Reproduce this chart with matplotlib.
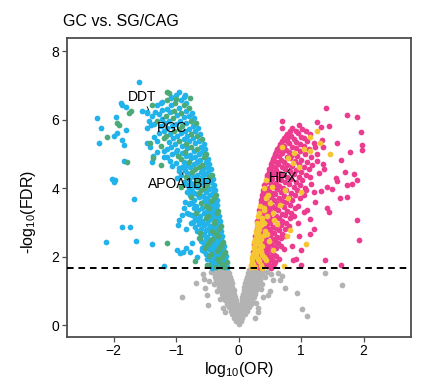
import numpy as np
import matplotlib
matplotlib.use("Agg")
import matplotlib.pyplot as plt

plt.rcParams['font.family'] = ['Liberation Sans', 'DejaVu Sans']
plt.rcParams['mathtext.fontset'] = 'custom'
plt.rcParams['mathtext.rm'] = 'Liberation Sans'
plt.rcParams['mathtext.default'] = 'regular'

title = "GC vs. SG/CAG"
fdr_cut = 1.66
x_ticks = [-2, -1, 0, 1, 2]
y_ticks = [0, 2, 4, 6, 8]

# down-regulated, group 1 (blue)
blue_pts = [
    (-0.18, 1.70), (-0.30, 1.72), (-0.42, 1.68),
    (-0.25, 1.86), (-0.38, 1.83), (-0.45, 1.88),
    (-0.21, 2.01), (-0.33, 1.98), (-0.40, 2.03),
    (-0.28, 2.16), (-0.42, 2.13), (-0.55, 2.18),
    (-0.24, 2.30), (-0.37, 2.32), (-0.45, 2.28), (-0.52, 2.33),
    (-0.31, 2.46), (-0.38, 2.44), (-0.60, 2.47),
    (-0.27, 2.60), (-0.40, 2.62), (-0.50, 2.58), (-0.58, 2.63),
    (-0.28, 2.76), (-0.35, 2.73), (-0.53, 2.77), (-0.66, 2.74),
    (-0.36, 2.91), (-0.44, 2.89), (-0.55, 2.92), (-0.70, 2.88),
    (-0.30, 3.05), (-0.47, 3.07), (-0.58, 3.03),
    (-0.32, 3.20), (-0.40, 3.22), (-0.62, 3.18), (-0.75, 3.23),
    (-0.41, 3.36), (-0.50, 3.33), (-0.65, 3.37),
    (-0.34, 3.50), (-0.43, 3.52), (-0.68, 3.48), (-0.80, 3.53),
    (-0.35, 3.66), (-0.55, 3.63), (-0.72, 3.67),
    (-0.46, 3.81), (-0.57, 3.78), (-0.66, 3.83), (-0.78, 3.79),
    (-0.38, 3.95), (-0.48, 3.97), (-0.75, 3.93),
    (-0.40, 4.10), (-0.62, 4.12), (-0.72, 4.08), (-0.85, 4.13),
    (-0.41, 4.26), (-0.52, 4.23), (-0.80, 4.27),
    (-0.54, 4.41), (-0.66, 4.38), (-0.78, 4.43), (-0.92, 4.39),
    (-0.45, 4.55), (-0.57, 4.57), (-0.86, 4.53),
    (-0.47, 4.70), (-0.72, 4.72), (-0.84, 4.68), (-1.00, 4.73),
    (-0.49, 4.86), (-0.62, 4.83), (-0.76, 4.87),
    (-0.64, 5.01), (-0.78, 4.98), (-0.90, 5.03), (-1.06, 4.99),
    (-0.54, 5.15), (-0.82, 5.17), (-0.98, 5.13), (-1.15, 5.16),
    (-0.56, 5.30), (-0.70, 5.32), (-1.02, 5.28),
    (-0.73, 5.46), (-0.88, 5.43), (-1.05, 5.47),
    (-0.62, 5.60), (-0.92, 5.62), (-1.10, 5.58), (-1.28, 5.61),
    (-0.65, 5.76), (-0.80, 5.73), (-1.14, 5.77),
    (-0.84, 5.91), (-1.00, 5.88), (-1.18, 5.92), (-1.35, 5.89),
    (-0.72, 6.05), (-0.88, 6.07), (-1.22, 6.03),
    (-0.75, 6.20), (-1.10, 6.22), (-1.28, 6.18), (-1.46, 6.21),
    (-0.96, 6.36), (-1.15, 6.33),
    (-0.84, 6.50), (-1.22, 6.52),
    (-0.88, 6.66), (-1.08, 6.63),
    (-0.95, 6.80),
    (-0.21, 1.77), (-0.33, 1.78), (-0.40, 1.76),
    (-0.22, 1.92), (-0.29, 1.93), (-0.42, 1.91), (-0.50, 1.94),
    (-0.30, 2.08), (-0.37, 2.06), (-0.52, 2.08),
    (-0.25, 2.22), (-0.39, 2.23), (-0.48, 2.21), (-0.58, 2.24),
    (-0.34, 2.37), (-0.41, 2.38), (-0.56, 2.36),
    (-0.28, 2.52), (-0.35, 2.53), (-0.53, 2.51), (-0.64, 2.54),
    (-0.30, 2.67), (-0.46, 2.68), (-0.55, 2.66),
    (-0.39, 2.82), (-0.48, 2.83), (-0.60, 2.81),
    (-0.32, 2.97), (-0.50, 2.98), (-0.63, 2.96), (-0.76, 2.99),
    (-0.34, 3.12), (-0.43, 3.13), (-0.65, 3.11), (-0.70, 3.14),
    (-0.45, 3.27), (-0.56, 3.28), (-0.80, 3.26),
    (-0.37, 3.42), (-0.58, 3.43), (-0.72, 3.41),
    (-0.38, 3.57), (-0.49, 3.58), (-0.74, 3.56), (-0.86, 3.59),
    (-0.51, 3.72), (-0.63, 3.73),
    (-0.41, 3.87), (-0.53, 3.88), (-0.71, 3.86), (-0.82, 3.89),
    (-0.43, 4.02), (-0.67, 4.03), (-0.80, 4.01),
    (-0.45, 4.17), (-0.57, 4.18), (-0.77, 4.16), (-0.88, 4.19),
    (-0.59, 4.32), (-0.72, 4.33), (-0.98, 4.31),
    (-0.49, 4.47), (-0.61, 4.48), (-0.82, 4.46), (-0.96, 4.49),
    (-0.51, 4.62), (-0.78, 4.63), (-0.91, 4.61), (-1.06, 4.64),
    (-0.53, 4.77), (-0.66, 4.78), (-0.88, 4.76), (-1.10, 4.79),
    (-0.70, 4.92), (-0.84, 4.93), (-1.14, 4.91),
    (-0.58, 5.07), (-0.72, 5.08), (-1.00, 5.06), (-1.20, 5.09),
    (-0.61, 5.22), (-0.90, 5.23), (-1.08, 5.21),
    (-0.63, 5.37), (-0.79, 5.38), (-1.12, 5.36), (-1.30, 5.39),
    (-0.82, 5.52), (-0.98, 5.53), (-1.36, 5.51),
    (-0.70, 5.67), (-0.86, 5.68), (-1.20, 5.66),
    (-0.73, 5.82), (-1.07, 5.83), (-1.25, 5.81), (-1.40, 5.84),
    (-0.94, 5.97), (-1.12, 5.98),
    (-0.80, 6.12), (-0.98, 6.13), (-1.38, 6.11),
    (-0.84, 6.27), (-1.22, 6.28), (-1.55, 6.26),
    (-1.08, 6.42), (-1.30, 6.43),
    (-0.93, 6.57), (-1.00, 6.72),
    (-1.60, 7.12), (-2.27, 6.06), (-2.20, 5.76), (-2.24, 5.32), (-1.97, 6.09),
    (-1.81, 5.70), (-1.89, 6.50), (-1.81, 6.38), (-1.86, 5.41), (-1.84, 5.26),
    (-2.00, 5.53), (-1.46, 5.76), (-1.44, 5.97), (-1.47, 6.24), (-1.34, 6.24),
    (-1.25, 6.50), (-1.09, 6.68), (-0.86, 6.72), (-1.84, 4.79), (-2.03, 4.26),
    (-2.00, 4.18), (-1.68, 3.68), (-1.87, 2.88), (-1.74, 2.88), (-2.13, 2.44),
    (-1.65, 2.47), (-1.38, 2.38), (-1.20, 1.74), (-0.96, 3.06), (-0.85, 2.82),
    (-0.74, 2.41), (-0.94, 2.12), (-0.85, 2.24), (-1.39, 4.77), (-1.37, 4.95),
    (-1.47, 5.32), (-1.42, 5.20), (-1.98, 4.24), (-1.94, 5.61), (-1.87, 6.43),
    (-0.88, 3.42), (-0.83, 3.27), (-0.91, 3.21), (-0.73, 3.01), (-0.67, 3.06),
    (-0.97, 2.92), (-0.99, 2.19), (-0.89, 2.13), (-0.78, 2.13), (-0.67, 1.99),
    (-0.59, 2.19), (-0.78, 3.57), (-1.30, 5.05), (-1.20, 4.90), (-0.95, 4.60),
]

# down-regulated, group 2 (green)
green_pts = [
    (-0.24, 1.69), (-0.36, 1.71), (-0.19, 1.84), (-0.31, 1.87), (-0.27, 1.99),
    (-0.48, 2.02), (-0.22, 2.14), (-0.35, 2.17), (-0.30, 2.29), (-0.25, 2.44),
    (-0.46, 2.47), (-0.33, 2.59), (-0.42, 2.74), (-0.29, 2.90), (-0.38, 3.04),
    (-0.49, 3.19), (-0.33, 3.34), (-0.53, 3.49), (-0.44, 3.64), (-0.37, 3.80),
    (-0.60, 3.96), (-0.50, 4.09), (-0.65, 4.24), (-0.43, 4.40), (-0.70, 4.56),
    (-0.59, 4.69), (-0.92, 4.85), (-0.52, 4.99), (-0.67, 5.14), (-0.85, 5.29),
    (-0.59, 5.44), (-1.20, 5.46), (-0.76, 5.59), (-0.96, 5.74), (-0.68, 5.90),
    (-1.05, 6.06), (-0.92, 6.19), (-0.80, 6.34), (-1.02, 6.49), (-1.12, 6.79),
    (-0.27, 1.78), (-0.48, 1.77), (-0.35, 1.92), (-0.24, 2.07), (-0.45, 2.08),
    (-0.32, 2.22), (-0.27, 2.37), (-0.49, 2.38), (-0.43, 2.52), (-0.37, 2.67),
    (-0.62, 2.68), (-0.31, 2.82), (-0.40, 2.97), (-0.53, 3.12), (-0.35, 3.27),
    (-0.68, 3.28), (-0.47, 3.42), (-0.60, 3.57), (-0.40, 3.72), (-0.76, 3.73),
    (-0.64, 3.87), (-0.55, 4.02), (-0.92, 4.03), (-0.68, 4.17), (-0.47, 4.32),
    (-0.85, 4.33), (-0.74, 4.47), (-0.64, 4.62), (-0.80, 4.77), (-0.56, 4.92),
    (-0.97, 4.93), (-0.86, 5.07), (-0.76, 5.22), (-1.24, 5.23), (-0.95, 5.37),
    (-0.67, 5.52), (-1.16, 5.53), (-1.03, 5.67), (-0.90, 5.82), (-0.76, 5.97),
    (-1.30, 5.98), (-1.16, 6.12), (-1.03, 6.27), (-0.88, 6.42), (-1.15, 6.57),
    (-2.11, 5.50), (-1.92, 5.85), (-1.76, 6.20), (-1.72, 6.26), (-1.42, 5.32),
    (-1.38, 6.44), (-1.14, 6.82), (-1.00, 6.62), (-0.78, 6.65), (-1.78, 4.78),
    (-1.25, 4.68), (-1.37, 4.88), (-1.14, 2.41), (-0.70, 1.88), (-0.54, 2.26),
    (-1.95, 5.90), (-0.62, 2.55), (-0.50, 1.75),
]

# up-regulated, group 1 (pink)
pink_pts = [
    (0.32, 1.70), (0.45, 1.72), (0.52, 1.68),
    (0.27, 1.86), (0.40, 1.83), (0.48, 1.87), (0.58, 1.84),
    (0.34, 2.01), (0.50, 1.98), (0.60, 2.03),
    (0.23, 2.15), (0.44, 2.17), (0.54, 2.13),
    (0.30, 2.30), (0.46, 2.32), (0.56, 2.28), (0.68, 2.31),
    (0.39, 2.46), (0.60, 2.44),
    (0.26, 2.60), (0.50, 2.62), (0.62, 2.58), (0.74, 2.61),
    (0.34, 2.76), (0.52, 2.73), (0.65, 2.77),
    (0.44, 2.91), (0.55, 2.88), (0.68, 2.92), (0.80, 2.89),
    (0.30, 3.05), (0.46, 3.07), (0.70, 3.03),
    (0.39, 3.20), (0.48, 3.22), (0.60, 3.18), (0.74, 3.21), (0.88, 3.19),
    (0.33, 3.36), (0.50, 3.33), (0.63, 3.37), (0.78, 3.34),
    (0.43, 3.51), (0.53, 3.48), (0.82, 3.52), (0.95, 3.49),
    (0.36, 3.66), (0.45, 3.63), (0.56, 3.67), (0.70, 3.64), (0.86, 3.66),
    (0.37, 3.80), (0.58, 3.82), (0.72, 3.78), (0.90, 3.81), (1.05, 3.79),
    (0.39, 3.96), (0.49, 3.93), (0.61, 3.97), (0.76, 3.94), (0.94, 3.96),
    (0.41, 4.10), (0.51, 4.12), (0.64, 4.08), (0.80, 4.11), (0.98, 4.09), (1.15, 4.12),
    (0.54, 4.26), (0.67, 4.23), (0.84, 4.27), (1.02, 4.24),
    (0.46, 4.40), (0.57, 4.42), (0.70, 4.38), (0.88, 4.41), (1.08, 4.39),
    (0.49, 4.56), (0.60, 4.53), (0.74, 4.57), (0.92, 4.54), (1.12, 4.56),
    (0.52, 4.70), (0.63, 4.72), (0.78, 4.68), (0.96, 4.71), (1.18, 4.69),
    (0.55, 4.86), (0.67, 4.83), (0.82, 4.87), (1.00, 4.84),
    (0.58, 5.00), (0.70, 5.02), (0.86, 4.98), (1.06, 5.01), (1.25, 4.99),
    (0.62, 5.15), (0.75, 5.13), (0.92, 5.17), (1.12, 5.14),
    (0.66, 5.30), (0.80, 5.32), (0.98, 5.28), (1.20, 5.31),
    (0.72, 5.46), (0.88, 5.43), (1.05, 5.47),
    (0.78, 5.60), (0.95, 5.62), (1.14, 5.58),
    (0.85, 5.76), (1.02, 5.73),
    (0.29, 1.77), (0.42, 1.78), (0.49, 1.76), (0.56, 1.78),
    (0.25, 1.92), (0.37, 1.93), (0.53, 1.91), (0.64, 1.94),
    (0.32, 2.07), (0.46, 2.08), (0.56, 2.06),
    (0.27, 2.22), (0.40, 2.23), (0.49, 2.21), (0.60, 2.24), (0.72, 2.22),
    (0.25, 2.37), (0.42, 2.38), (0.51, 2.36), (0.63, 2.39),
    (0.30, 2.52), (0.44, 2.53), (0.55, 2.51), (0.68, 2.54),
    (0.38, 2.67), (0.57, 2.68), (0.70, 2.66),
    (0.29, 2.82), (0.40, 2.83), (0.48, 2.81), (0.60, 2.84), (0.74, 2.82),
    (0.35, 2.97), (0.50, 2.98), (0.62, 2.96), (0.76, 2.99),
    (0.32, 3.12), (0.43, 3.13), (0.53, 3.11), (0.65, 3.14), (0.82, 3.12),
    (0.38, 3.27), (0.45, 3.28), (0.69, 3.26), (0.84, 3.29),
    (0.35, 3.42), (0.48, 3.43), (0.58, 3.41), (0.72, 3.44), (0.90, 3.42),
    (0.36, 3.57), (0.42, 3.58), (0.62, 3.56), (0.76, 3.59),
    (0.38, 3.72), (0.52, 3.73), (0.64, 3.71), (0.80, 3.74), (0.98, 3.72),
    (0.39, 3.87), (0.46, 3.88), (0.55, 3.86), (0.68, 3.89), (0.84, 3.87),
    (0.48, 4.02), (0.58, 4.03), (0.71, 4.01), (0.88, 4.04), (1.06, 4.02),
    (0.43, 4.17), (0.50, 4.18), (0.60, 4.16), (0.74, 4.19), (0.92, 4.17),
    (0.45, 4.32), (0.52, 4.33), (0.63, 4.31), (0.78, 4.34), (0.96, 4.32), (1.14, 4.33),
    (0.48, 4.47), (0.55, 4.48), (0.66, 4.46), (0.82, 4.49), (1.00, 4.47),
    (0.51, 4.62), (0.58, 4.63), (0.69, 4.61), (0.85, 4.64), (1.05, 4.62),
    (0.54, 4.77), (0.62, 4.78), (0.73, 4.76), (0.90, 4.79), (1.10, 4.77),
    (0.57, 4.92), (0.65, 4.93), (0.77, 4.91), (0.94, 4.94), (1.15, 4.92),
    (0.60, 5.07), (0.68, 5.08), (0.81, 5.06), (0.98, 5.09),
    (0.64, 5.22), (0.72, 5.23), (0.85, 5.21), (1.04, 5.24), (1.22, 5.22),
    (0.70, 5.37), (0.77, 5.38), (0.92, 5.36), (1.10, 5.39),
    (0.75, 5.52), (0.84, 5.53), (1.00, 5.51),
    (0.82, 5.67), (0.92, 5.68), (1.08, 5.66),
    (1.39, 6.35), (1.74, 6.15), (1.90, 6.09), (1.95, 5.65), (1.98, 5.26),
    (1.98, 5.12), (1.78, 5.06), (0.69, 5.97), (0.69, 5.76), (0.96, 5.85),
    (1.26, 5.94), (1.31, 5.79), (1.44, 5.82), (1.58, 5.32), (1.63, 4.82),
    (1.70, 4.47), (1.84, 4.41), (1.90, 4.24), (1.74, 4.09), (1.81, 4.12),
    (1.62, 3.71), (1.74, 3.74), (1.42, 4.03), (1.50, 3.97), (1.31, 3.91),
    (1.42, 3.41), (1.44, 3.32), (1.89, 3.06), (1.92, 2.50), (1.38, 1.91),
    (1.63, 1.76), (1.14, 2.65), (1.14, 3.09), (0.99, 1.76), (0.87, 1.90),
    (0.92, 1.94), (1.20, 2.80), (1.05, 3.30), (1.00, 2.20), (0.85, 2.30),
    (1.28, 4.45), (1.35, 4.70), (1.22, 3.60), (0.96, 2.60), (1.08, 3.95),
    (1.33, 5.41), (1.35, 5.20), (1.25, 4.80), (1.55, 4.30), (1.58, 4.20),
    (1.37, 4.56), (0.79, 5.50), (1.20, 3.89), (1.09, 3.35), (0.95, 2.98),
]

# up-regulated, group 2 (yellow)
yellow_pts = [
    (0.20, 1.69), (0.26, 1.71), (0.38, 1.68), (0.21, 1.84), (0.33, 1.86),
    (0.22, 1.99), (0.28, 2.02), (0.41, 1.99), (0.29, 2.14), (0.36, 2.16),
    (0.24, 2.29), (0.37, 2.31), (0.25, 2.44), (0.31, 2.47), (0.48, 2.45),
    (0.33, 2.59), (0.41, 2.62), (0.27, 2.74), (0.42, 2.76), (0.29, 2.89),
    (0.36, 2.92), (0.38, 3.04), (0.57, 3.06), (0.31, 3.19), (0.41, 3.35),
    (0.34, 3.49), (0.66, 3.51), (0.47, 3.79), (0.43, 4.24),
    (0.20, 1.77), (0.23, 1.78), (0.35, 1.76), (0.22, 1.92), (0.31, 1.93),
    (0.44, 1.91), (0.23, 2.07), (0.26, 2.08), (0.38, 2.06), (0.24, 2.22),
    (0.33, 2.23), (0.28, 2.37), (0.34, 2.38), (0.26, 2.52), (0.36, 2.53),
    (0.28, 2.67), (0.31, 2.68), (0.46, 2.66), (0.33, 2.82), (0.30, 2.97),
    (0.41, 2.98), (0.37, 3.12), (0.33, 3.27), (0.55, 3.28), (0.40, 3.42),
    (0.50, 3.57), (0.44, 3.72), (0.41, 4.02),
    (0.70, 5.20), (0.88, 5.03), (1.04, 5.15), (1.14, 5.09), (1.14, 5.50),
    (1.25, 5.68), (1.30, 5.32), (1.46, 5.00), (0.79, 4.88), (0.87, 4.74),
    (0.97, 4.62), (0.74, 3.95), (0.79, 3.71), (1.00, 3.89), (0.53, 4.04),
    (0.82, 2.78), (0.77, 2.60), (1.07, 2.37), (0.72, 1.74), (0.55, 2.20),
    (0.62, 2.95), (0.45, 3.20),
]

# not significant (grey)
grey_pts = [
    (-0.41, 1.62), (-0.35, 1.61), (-0.29, 1.63), (-0.23, 1.61), (-0.18, 1.62),
    (0.17, 1.62), (0.22, 1.61), (0.27, 1.63), (0.32, 1.61), (0.38, 1.62),
    (-0.40, 1.52), (-0.34, 1.53), (-0.28, 1.51), (-0.22, 1.53), (-0.16, 1.52),
    (0.15, 1.52), (0.20, 1.53), (0.26, 1.51), (0.31, 1.53), (0.37, 1.52),
    (-0.38, 1.42), (-0.32, 1.41), (-0.26, 1.43), (-0.20, 1.41), (-0.14, 1.42),
    (0.13, 1.42), (0.18, 1.41), (0.24, 1.43), (0.30, 1.41), (0.36, 1.42),
    (-0.36, 1.32), (-0.30, 1.33), (-0.24, 1.31), (-0.18, 1.33), (-0.12, 1.32),
    (0.11, 1.32), (0.16, 1.33), (0.22, 1.31), (0.28, 1.33), (0.34, 1.32),
    (-0.34, 1.22), (-0.28, 1.21), (-0.22, 1.23), (-0.16, 1.21), (-0.11, 1.22),
    (0.10, 1.22), (0.15, 1.21), (0.21, 1.23), (0.26, 1.21), (0.32, 1.22),
    (-0.32, 1.12), (-0.26, 1.13), (-0.20, 1.11), (-0.14, 1.13), (-0.10, 1.12),
    (0.09, 1.12), (0.14, 1.13), (0.19, 1.11), (0.24, 1.13), (0.30, 1.12),
    (-0.30, 1.02), (-0.24, 1.01), (-0.18, 1.03), (-0.13, 1.01), (-0.08, 1.02),
    (0.08, 1.02), (0.13, 1.01), (0.18, 1.03), (0.23, 1.01), (0.28, 1.02),
    (-0.27, 0.92), (-0.22, 0.93), (-0.16, 0.91), (-0.11, 0.93), (-0.07, 0.92),
    (0.07, 0.92), (0.12, 0.93), (0.16, 0.91), (0.21, 0.93), (0.26, 0.92),
    (-0.25, 0.82), (-0.20, 0.81), (-0.14, 0.83), (-0.10, 0.81), (-0.06, 0.82),
    (0.06, 0.82), (0.10, 0.81), (0.15, 0.83), (0.19, 0.81), (0.24, 0.82),
    (-0.22, 0.72), (-0.17, 0.73), (-0.12, 0.71), (-0.08, 0.73), (-0.05, 0.72),
    (0.05, 0.72), (0.09, 0.73), (0.13, 0.71), (0.17, 0.73), (0.21, 0.72),
    (-0.19, 0.62), (-0.15, 0.61), (-0.10, 0.63), (-0.06, 0.61), (-0.03, 0.62),
    (0.04, 0.62), (0.08, 0.61), (0.11, 0.63), (0.15, 0.61), (0.19, 0.62),
    (-0.16, 0.52), (-0.12, 0.53), (-0.08, 0.51), (-0.04, 0.53),
    (0.00, 0.52), (0.04, 0.51), (0.08, 0.53), (0.12, 0.51), (0.16, 0.52),
    (-0.13, 0.42), (-0.09, 0.41), (-0.05, 0.43), (-0.02, 0.41),
    (0.02, 0.42), (0.06, 0.43), (0.10, 0.41), (0.13, 0.42),
    (-0.10, 0.32), (-0.06, 0.33), (-0.03, 0.31),
    (0.00, 0.32), (0.03, 0.31), (0.07, 0.33), (0.10, 0.32),
    (-0.07, 0.22), (-0.04, 0.21), (-0.01, 0.23), (0.02, 0.22), (0.05, 0.21),
    (-0.04, 0.12), (-0.01, 0.11), (0.01, 0.13), (0.03, 0.12),
    (0.00, 0.04),
    (1.38, 1.52), (1.65, 1.17), (0.93, 0.94), (1.02, 0.47), (1.10, 0.26),
    (-0.91, 0.82), (-0.57, 1.49), (-0.55, 1.35), (-0.68, 1.23), (-0.54, 1.08),
    (-0.51, 0.88), (-0.49, 0.58), (-0.25, 0.50), (-0.22, 0.38), (0.66, 1.32),
    (0.63, 1.52), (0.55, 1.32), (0.74, 1.08), (0.50, 1.00), (0.47, 0.88),
    (0.39, 0.82), (0.31, 0.50), (0.31, 0.38), (0.26, 0.20), (0.51, 1.50),
    (0.70, 1.44), (0.45, 1.55), (0.42, 1.40), (-0.45, 1.55), (-0.47, 1.30),
    (0.38, 1.20), (0.35, 1.05), (-0.40, 1.20), (-0.35, 1.00), (0.28, 0.65),
    (-0.30, 0.75),
]

# labelled proteins: name, point, label position
label_names = ["DDT", "PGC", "APOA1BP", "HPX"]
label_points = [(-1.44, 6.29), (-1.21, 6.05), (-0.89, 4.47), (0.82, 4.58)]
label_text_pos = [(-1.54, 6.67), (-1.07, 5.76), (-0.94, 4.12), (0.71, 4.30)]

colors = {
    "grey": "#B3B3B3",
    "blue": "#22B3EA",
    "green": "#4CAA78",
    "pink": "#EC3C8F",
    "yellow": "#F6C533",
}

fig = plt.figure(figsize=(4.28, 3.79), dpi=100)
ax = fig.add_axes([0.156, 0.1116, 0.804, 0.787])

for pts, key in [(grey_pts, "grey"), (blue_pts, "blue"), (green_pts, "green"),
                 (pink_pts, "pink"), (yellow_pts, "yellow")]:
    arr = np.array(pts)
    ax.scatter(arr[:, 0], arr[:, 1], s=17, c=colors[key], linewidths=0, zorder=2)

ax.axhline(fdr_cut, color="black", lw=1.4, dashes=(3.4, 2.5), zorder=3)

for name, pt, tp in zip(label_names, label_points, label_text_pos):
    ax.annotate(name, xy=pt, xytext=tp, ha="center", va="center", fontsize=10,
                color="black", zorder=4,
                arrowprops=dict(arrowstyle="-", lw=0.6, color="black",
                                shrinkA=0, shrinkB=0))

ax.set_xlim(-2.75, 2.755)
ax.set_ylim(-0.34, 8.38)
ax.set_xticks(x_ticks)
ax.set_yticks(y_ticks)
ax.set_xticklabels(["\u2212" + str(abs(t)) if t < 0 else str(t) for t in x_ticks])
for sp in ax.spines.values():
    sp.set_color("#4D4D4D")
    sp.set_linewidth(1.3)
ax.tick_params(direction="out", length=3.5, width=0.9, color="#4D4D4D",
               labelsize=10, labelcolor="black", pad=2)

ax.set_xlabel("log$_{10}$(OR)", fontsize=11.5, labelpad=1)
ax.set_ylabel("-log$_{10}$(FDR)", fontsize=11.5, labelpad=4)
ax.yaxis.set_label_coords(-0.085, 0.42)

fig.text(63 / 428, 1 - 22 / 379, title, fontsize=11.5, ha="left", va="center")

fig.savefig("out.png", dpi=100)
